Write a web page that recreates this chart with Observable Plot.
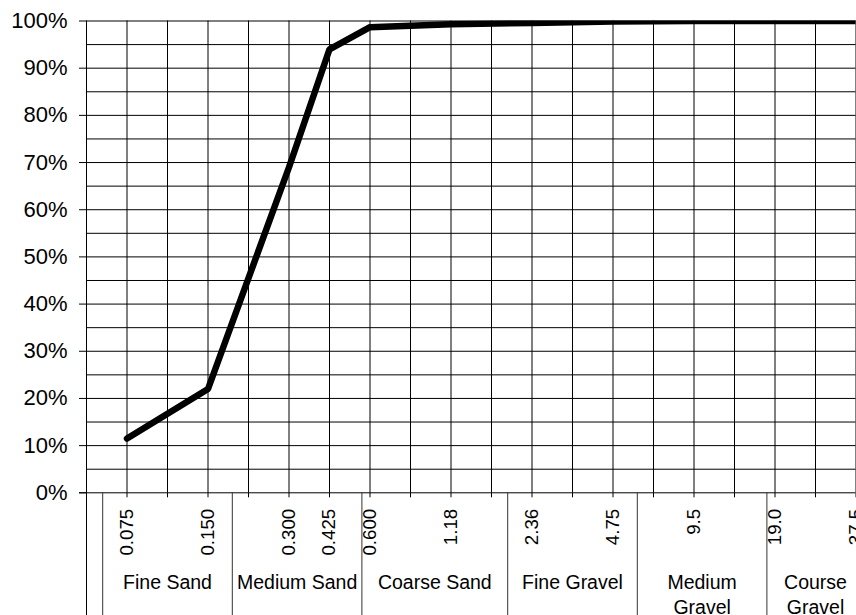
<!DOCTYPE html>
<html>
<head>
<meta charset="utf-8">
<script src="https://cdn.jsdelivr.net/npm/d3@7"></script>
<script src="https://cdn.jsdelivr.net/npm/@observablehq/plot@0.6"></script>
<style>
  html, body { margin: 0; padding: 0; background: #fff; }
  #chart svg { display: block; }
</style>
</head>
<body>
<div id="chart"></div>
<script>
// Sieve sizes (mm) as category labels; blanks are unlabelled grid positions
const sieveSizes = ["", "0.075", "", "0.150", "", "0.300", "0.425", "0.600", "", "1.18", "", "2.36", "", "4.75", "", "9.5", "", "19.0", "", "37.5"];
// Percent passing for each category (null = no sieve)
const percentPassing = [null, 11.5, null, 22.0, null, 69.0, 94.0, 98.7, null, 99.3, null, 99.6, null, 99.9, null, 100, null, 100, null, 100];
// Soil classes shown in the table below the axis
const soilClasses = ["Fine Sand", "Medium Sand", "Coarse Sand", "Fine Gravel", "Medium\nGravel", "Course\nGravel"];
// Class boundaries in category-position units
const classBounds = [0.4, 3.6, 6.8, 10.4, 13.6, 16.8, 19.2];
// Y tick labels (percent)
const yTicks = [0, 10, 20, 30, 40, 50, 60, 70, 80, 90, 100];
const yGrid = [5, 10, 15, 20, 25, 30, 35, 40, 45, 50, 55, 60, 65, 70, 75, 80, 85, 90, 95, 100];

const positions = sieveSizes.map((s, i) => i);
const rows = sieveSizes
  .map((s, i) => ({pos: i, size: s, pct: percentPassing[i]}))
  .filter(d => d.pct != null);
const classes = soilClasses.map((name, i) => ({name, mid: (classBounds[i] + classBounds[i + 1]) / 2}));

const chart = Plot.plot({
  width: 856,
  height: 615,
  marginLeft: 86,
  marginRight: 0.5,
  marginTop: 20.5,
  marginBottom: 122.7,
  style: {fontFamily: "'Liberation Sans', Arial, sans-serif", background: "#fff", color: "#000", overflow: "visible"},
  x: {type: "linear", domain: [0, 19]},
  y: {domain: [0, 100]},
  marks: [
    Plot.ruleY(yGrid, {stroke: "#000", strokeWidth: 1}),
    Plot.ruleX(positions.slice(1), {stroke: "#000", strokeWidth: 1}),
    Plot.ruleY([0], {stroke: "#000", strokeWidth: 1, insetLeft: -7}),
    Plot.ruleX([0], {stroke: "#000", strokeWidth: 1, insetBottom: -123}),
    Plot.ruleX(classBounds, {y1: 0, y2: 0, insetBottom: -123, stroke: "#333", strokeWidth: 1}),
    Plot.axisY(yTicks, {
      tickSize: 7,
      tickPadding: 12,
      tickFormat: d => d + "%",
      fontSize: 22,
      label: null,
      stroke: "#000"
    }),
    Plot.axisX(positions, {
      tickSize: 5,
      tickPadding: 11,
      tickRotate: -90,
      tickFormat: i => sieveSizes[i],
      fontSize: 18.7,
      label: null,
      stroke: "#000"
    }),
    Plot.text(classes, {
      x: "mid",
      text: "name",
      frameAnchor: "bottom",
      lineAnchor: "top",
      dy: 78,
      fontSize: 19.5,
      lineHeight: 1.3,
      fill: "#000"
    }),
    Plot.line(rows, {
      x: "pos",
      y: "pct",
      stroke: "#000",
      strokeWidth: 6.5,
      strokeLinecap: "round",
      strokeLinejoin: "miter",
      clip: true
    })
  ]
});
document.getElementById("chart").appendChild(chart);
</script>
</body>
</html>
